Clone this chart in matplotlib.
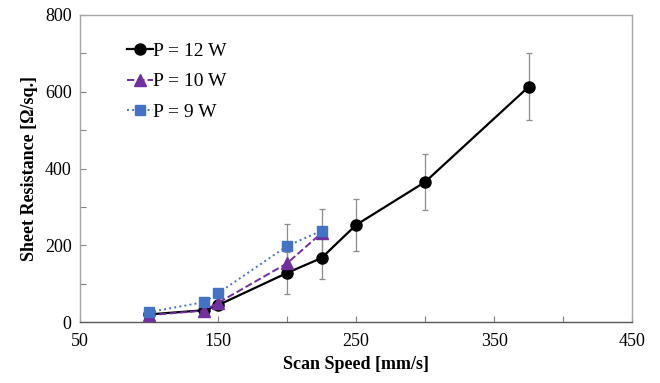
import matplotlib.pyplot as plt

# --- data ---
speed_12w = [100, 140, 150, 200, 225, 250, 300, 375]
res_12w = [20, 31, 44, 128, 167, 253, 365, 613]
err_12w = [5, 6, 8, 55, 56, 67, 72, 87]

speed_10w = [100, 140, 150, 200, 225]
res_10w = [18, 30, 50, 153, 232]

speed_9w = [100, 140, 150, 200, 225]
res_9w = [26, 52, 75, 198, 238]
err_9w = [4, 6, 8, 57, 57]

x_ticks = [50, 100, 150, 200, 250, 300, 350, 400, 450]
x_labels = ["50", "", "150", "", "250", "", "350", "", "450"]
y_ticks = [0, 100, 200, 300, 400, 500, 600, 700, 800]
y_labels = ["0", "", "200", "", "400", "", "600", "", "800"]

plt.rcParams['font.family'] = ['Liberation Serif', 'DejaVu Serif']

fig = plt.figure(figsize=(6.6, 3.83), dpi=100)
ax = fig.add_axes([0.121, 0.159, 0.837, 0.802])

ecol = '#8c8c8c'
ax.errorbar(speed_12w, res_12w, yerr=err_12w, fmt='none', ecolor=ecol,
            elinewidth=0.9, capsize=2, capthick=0.9, zorder=1)
ax.errorbar(speed_9w, res_9w, yerr=err_9w, fmt='none', ecolor=ecol,
            elinewidth=0.9, capsize=2, capthick=0.9, zorder=1)

ax.plot(speed_12w, res_12w, color='black', linestyle='-', linewidth=1.6,
        marker='o', markersize=8, zorder=3, label='P = 12 W')
ax.plot(speed_10w, res_10w, color='#7030A0', linestyle='--', linewidth=1.4,
        marker='^', markersize=8, zorder=4, label='P = 10 W')
ax.plot(speed_9w, res_9w, color='#4472C4', linestyle=':', linewidth=1.4,
        marker='s', markersize=7, zorder=5, label='P = 9 W')

ax.set_xlim(50, 450)
ax.set_ylim(0, 800)
ax.set_xticks(x_ticks)
ax.set_xticklabels(x_labels)
ax.set_yticks(y_ticks)
ax.set_yticklabels(y_labels)
ax.tick_params(axis='both', direction='in', length=4, width=0.8,
               color='#808080', labelsize=13)
ax.tick_params(axis='x', pad=8)
ax.tick_params(axis='y', pad=6)

for side in ['top', 'right', 'left']:
    ax.spines[side].set_color('#a6a6a6')
    ax.spines[side].set_linewidth(1.0)
ax.spines['bottom'].set_color('#595959')
ax.spines['bottom'].set_linewidth(1.0)

ax.set_xlabel("Scan Speed [mm/s]", fontsize=13, fontweight='bold', labelpad=4)
ax.set_ylabel("Sheet Resistance [\u03a9/sq.]", fontsize=13, fontweight='bold', labelpad=5)

ax.legend(loc='upper left', bbox_to_anchor=(0.065, 0.95), frameon=False,
          fontsize=14, handlelength=1.3, handletextpad=0.0,
          labelspacing=0.68, borderaxespad=0.2)

fig.savefig("out.png", dpi=100)
